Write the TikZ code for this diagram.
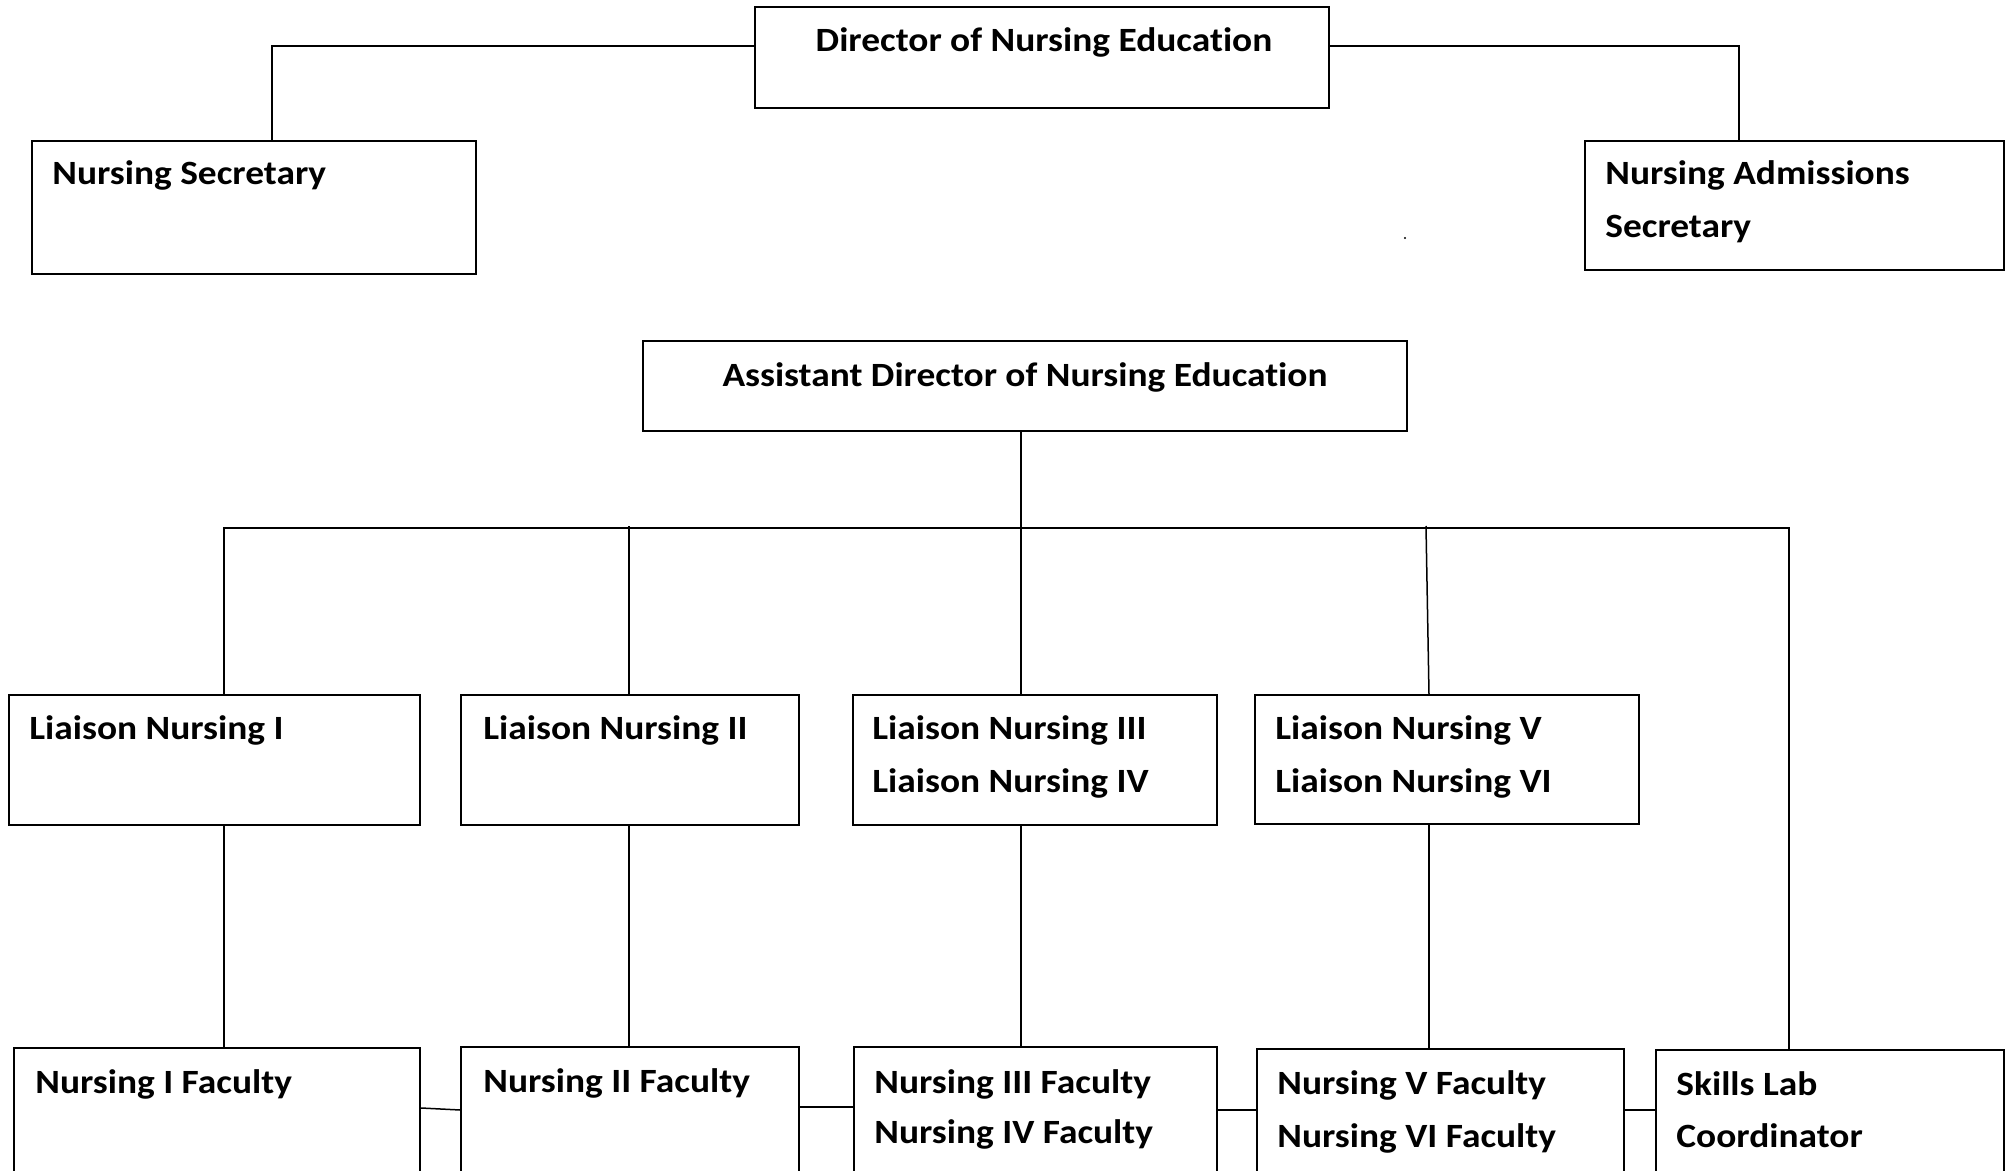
\documentclass[tikz,border=0pt]{standalone}
\usepackage{fontspec}
\setmainfont{Carlito}[FakeStretch=1.1,Ligatures=NoCommon]
\usetikzlibrary{calc}
\begin{document}
\begin{tikzpicture}[x=0.5pt,y=-0.5pt,
  box/.style={draw, line width=1pt, inner sep=0pt, anchor=north west},
  lbl/.style={anchor=base west, inner sep=0pt, font=\bfseries\fontsize{17}{25.7}\selectfont},
  clbl/.style={anchor=base, inner sep=0pt, font=\bfseries\fontsize{17}{25.7}\selectfont},
  conn/.style={line width=0.75pt}]
\useasboundingbox (0,0) rectangle (2015,1171);
\clip (0,0) rectangle (2015,1171);

% boxes
\node[box, minimum width=287pt, minimum height=50.5pt] (dir) at (754,6) {};
\node[box, minimum width=222pt, minimum height=66.5pt] (sec) at (31,140) {};
\node[box, minimum width=209.5pt, minimum height=64.5pt] (adm) at (1584,140) {};
\node[box, minimum width=382pt, minimum height=45pt] (asst) at (642,340) {};
\node[box, minimum width=205.5pt, minimum height=65pt] (l1) at (8,694) {};
\node[box, minimum width=169pt, minimum height=65pt] (l2) at (460,694) {};
\node[box, minimum width=182pt, minimum height=65pt] (l3) at (852,694) {};
\node[box, minimum width=192pt, minimum height=64.5pt] (l5) at (1254,694) {};
\node[box, minimum width=203pt, minimum height=100pt] (f1) at (13,1047) {};
\node[box, minimum width=169pt, minimum height=100pt] (f2) at (460,1046) {};
\node[box, minimum width=181.5pt, minimum height=100pt] (f3) at (853,1046) {};
\node[box, minimum width=183.5pt, minimum height=100pt] (f5) at (1256,1048) {};
\node[box, minimum width=174pt, minimum height=100pt] (sk) at (1655,1049) {};

% texts
\node[clbl] (tdir) at ($(dir.north)+(2,46)$) {Director of Nursing Education};
\node[clbl] (tasst) at ($(asst.north)+(0,47)$) {Assistant Director of Nursing Education};
\node[lbl] (tsec) at ($(sec.north west)+(21,45)$) {Nursing Secretary};
\node[lbl] (tadm1) at ($(adm.north west)+(21,45)$) {Nursing Admissions};
\node[lbl] (tadm2) at ($(adm.north west)+(21,98)$) {Secretary};
\node[lbl] (tl1) at ($(l1.north west)+(21,46)$) {Liaison Nursing I};
\node[lbl] (tl2) at ($(l2.north west)+(23,46)$) {Liaison Nursing II};
\node[lbl] (tl3a) at ($(l3.north west)+(20,46)$) {Liaison Nursing III};
\node[lbl] (tl3b) at ($(l3.north west)+(20,98)$) {Liaison Nursing IV};
\node[lbl] (tl5a) at ($(l5.north west)+(21,46)$) {Liaison Nursing V};
\node[lbl] (tl5b) at ($(l5.north west)+(21,98)$) {Liaison Nursing VI};
\node[lbl] (tf1) at ($(f1.north west)+(22,46)$) {Nursing I Faculty};
\node[lbl] (tf2) at ($(f2.north west)+(23,46)$) {Nursing II Faculty};
\node[lbl] (tf3a) at ($(f3.north west)+(21,47)$) {Nursing III Faculty};
\node[lbl] (tf3b) at ($(f3.north west)+(21,97)$) {Nursing IV Faculty};
\node[lbl] (tf5a) at ($(f5.north west)+(21,46)$) {Nursing V Faculty};
\node[lbl] (tf5b) at ($(f5.north west)+(21,99)$) {Nursing VI Faculty};
\node[lbl] (tska) at ($(sk.north west)+(21,46)$) {Skills Lab};
\node[lbl] (tskb) at ($(sk.north west)+(21,98)$) {Coordinator};

% connectors from director
\draw[conn] ($(dir.north west)+(0,40)$) -| ($(sec.north west)+(241,0)$);
\draw[conn] ($(dir.north east)+(0,40)$) -| ($(adm.north west)+(155,0)$);
\draw[conn] ($(asst.north west)+(379,0)$) -- ($(asst.north west)+(379,0)$ |- dir.south);

% bus
\draw[conn] ($(asst.south west)+(379,0)$) -- ++(0,96) coordinate (bus);
\draw[conn] ($(l1.north west)+(216,0)$) |- (bus) -| ($(sk.north west)+(134,0)$);
\draw[conn] ($(l2.north west)+(169,0)$) -- ++(0,-168);
\draw[conn] ($(l3.north west)+(169,0)$) -- ++(0,-168);
\draw[conn] ($(l5.north west)+(175,0)$) -- ($(l5.north west)+(172,-168)$);

% liaison to faculty
\draw[conn] ($(l1.south west)+(216,0)$) -- ($(f1.north west)+(211,0)$);
\draw[conn] ($(l2.south west)+(169,0)$) -- ($(f2.north west)+(169,0)$);
\draw[conn] ($(l3.south west)+(169,0)$) -- ($(f3.north west)+(168,0)$);
\draw[conn] ($(l5.south west)+(175,0)$) -- ($(f5.north west)+(173,0)$);

% faculty links
\draw[conn] ($(f1.north east)+(0,61)$) -- ($(f2.north west)+(0,64)$);
\draw[conn] ($(f2.north east)+(0,61)$) -- ($(f3.north west)+(0,61)$);
\draw[conn] ($(f3.north east)+(0,64)$) -- ($(f5.north west)+(0,62)$);
\draw[conn] ($(f5.north east)+(0,62)$) -- ($(sk.north west)+(0,61)$);

% stray dot
\fill (1405,238) circle (1.2);
\end{tikzpicture}
\end{document}
